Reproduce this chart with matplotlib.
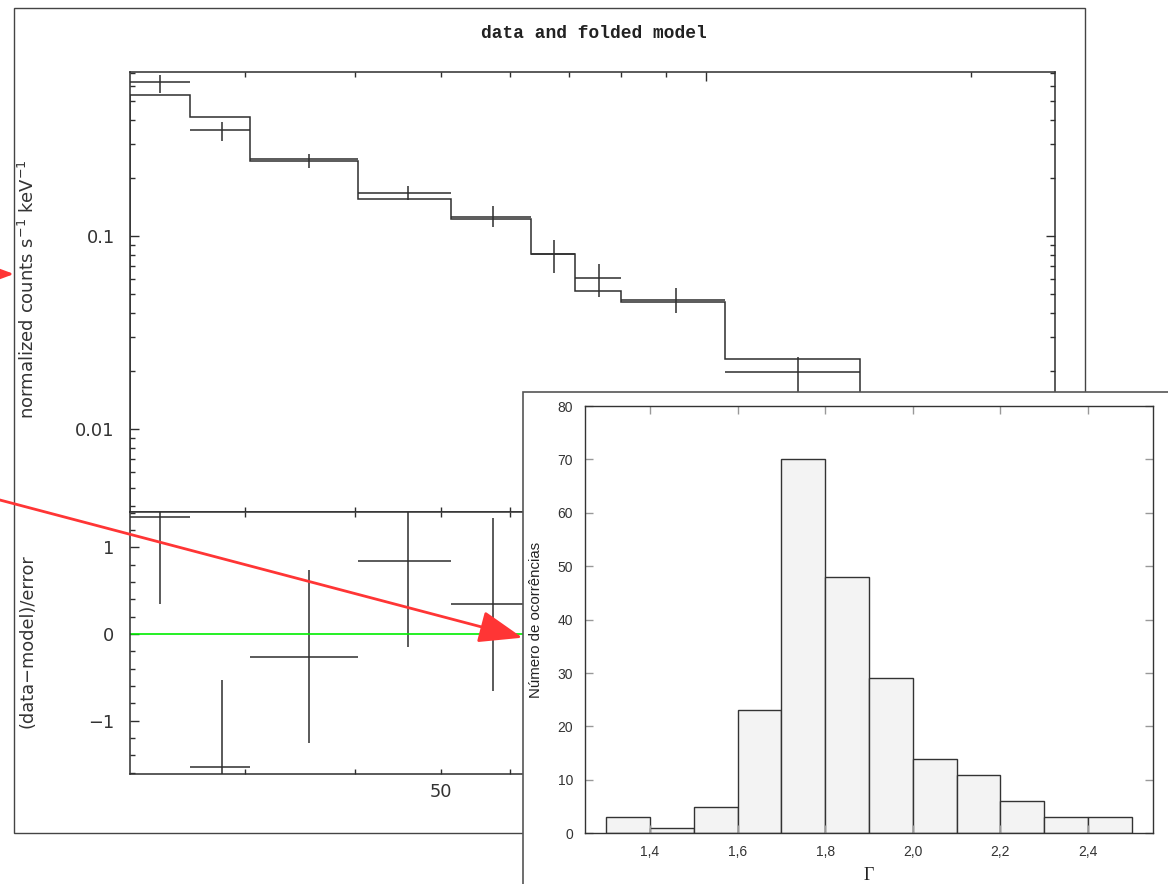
import matplotlib
matplotlib.use("Agg")
import matplotlib.pyplot as plt
from matplotlib.patches import Rectangle, FancyArrowPatch
from matplotlib.ticker import FixedLocator, FuncFormatter, MultipleLocator, NullFormatter

# --- spectrum (XSPEC "data and folded model") ---
energy_lo = [22.2, 26.0, 30.4, 40.3, 51.4, 63.3, 71.0, 80.0, 105.0]
energy_hi = [26.0, 30.4, 40.3, 51.4, 63.3, 71.0, 80.0, 105.0, 149.6]
energy_mid = [24.0, 28.2, 35.4, 45.9, 57.3, 67.2, 75.6, 92.5, 127.1]
rate = [0.627, 0.352, 0.249, 0.166, 0.126, 0.0804, 0.0604, 0.0467, 0.0198]
rate_lo = [0.551, 0.310, 0.225, 0.154, 0.111, 0.0641, 0.0482, 0.0401, 0.013]
rate_hi = [0.678, 0.390, 0.267, 0.181, 0.143, 0.0954, 0.0716, 0.0541, 0.0238]
model = [0.535, 0.411, 0.243, 0.155, 0.123, 0.0804, 0.0519, 0.0454, 0.0232]

# residuals visible left of the inset
resid = [1.35, -1.53, -0.26, 0.845, 0.34]
resid_err = [1.0, 1.0, 1.0, 1.0, 1.0]

# --- inset histogram of photon index ---
gamma_lo = [1.3, 1.4, 1.5, 1.6, 1.7, 1.8, 1.9, 2.0, 2.1, 2.2, 2.3, 2.4]
occurrences = [3, 1, 5, 23, 70, 48, 29, 14, 11, 6, 3, 3]
gamma_ticks = [1.4, 1.6, 1.8, 2.0, 2.2, 2.4]

W, H = 1168, 884
INK = "#2e2e2e"
RED = "#ff3535"


def frac(l, t, r, b):
    """pixel box (left, top, right, bottom) -> figure fraction rect"""
    return [l / W, 1 - b / H, (r - l) / W, (b - t) / H]


fig = plt.figure(figsize=(W / 100, H / 100), dpi=100)
fig.patch.set_facecolor("white")

# outer XSPEC frame
fig.add_artist(Rectangle((14 / W, 1 - 833 / H), (1085 - 14) / W, (833 - 8) / H,
                         transform=fig.transFigure, fill=False, ec="#444444", lw=1.0, zorder=0.5))
fig.text(594 / W, 1 - 33 / H, "data and folded model", ha="center", va="center",
         family="Liberation Mono", weight="bold", fontsize=12.9, color="#222222")

ax_top = fig.add_axes(frac(130, 71.7, 1055, 511.7), zorder=1)
ax_res = fig.add_axes(frac(130, 511.7, 1055, 774), zorder=1, sharex=ax_top)

xerr = [[m - lo for m, lo in zip(energy_mid, energy_lo)],
        [hi - m for m, hi in zip(energy_mid, energy_hi)]]
yerr = [[r - lo for r, lo in zip(rate, rate_lo)],
        [hi - r for r, hi in zip(rate, rate_hi)]]
ax_top.errorbar(energy_mid, rate, xerr=xerr, yerr=yerr, fmt="none", ecolor=INK, elinewidth=1.1, capsize=0)
ax_top.stairs(model, energy_lo + [energy_hi[-1]], baseline=1e-4, color=INK, lw=1.1)
ax_top.set_xscale("log")
ax_top.set_yscale("log")
ax_top.set_xlim(22.2, 249)
ax_top.set_ylim(0.00375, 0.708)

n = len(resid)
ax_res.errorbar(energy_mid[:n], resid,
                xerr=[xerr[0][:n], xerr[1][:n]], yerr=resid_err,
                fmt="none", ecolor=INK, elinewidth=1.1, capsize=0)
ax_res.axhline(0, color="#00ee00", lw=1.2)
ax_res.set_ylim(-1.615, 1.41)

for ax in (ax_top, ax_res):
    for s in ax.spines.values():
        s.set_color(INK)
        s.set_linewidth(1.1)
    ax.tick_params(which="both", direction="in", top=True, right=True, color=INK, width=1.0,
                   labelsize=12.8, labelcolor="#333333")
    ax.tick_params(which="major", length=6.5)
    ax.tick_params(which="minor", length=3.6)
    ax.xaxis.set_major_locator(FixedLocator([100]))
    ax.xaxis.set_minor_locator(FixedLocator([30, 40, 50, 60, 70, 80, 90, 200]))

ax_top.tick_params(axis="x", which="both", labelbottom=False)
ax_top.yaxis.set_major_locator(FixedLocator([0.01, 0.1]))
ax_top.yaxis.set_major_formatter(FuncFormatter(lambda v, p: "0.1" if v > 0.05 else "0.01"))
ax_top.yaxis.set_minor_locator(FixedLocator([k * d for d in (0.001, 0.01, 0.1) for k in range(2, 10)]))
ax_top.yaxis.set_minor_formatter(NullFormatter())
ax_top.tick_params(axis="y", which="both", pad=11)

ax_res.xaxis.set_major_formatter(FuncFormatter(lambda v, p: "100"))
ax_res.xaxis.set_minor_formatter(FuncFormatter(lambda v, p: {50: "50", 200: "200"}.get(int(round(v)), "")))
ax_res.tick_params(axis="x", which="both", pad=6.5)
ax_res.yaxis.set_major_locator(FixedLocator([-1, 0, 1]))
ax_res.yaxis.set_major_formatter(FuncFormatter(lambda v, p: f"{int(v)}".replace("-", "\u2212")))
ax_res.yaxis.set_minor_locator(MultipleLocator(0.2))
ax_res.tick_params(axis="y", which="both", pad=11.5)

fig.text(34 / W, 1 - 289 / H, "normalized counts s$^{-1}$ keV$^{-1}$", rotation=90,
         rotation_mode="anchor", ha="center", va="baseline", fontsize=13, color="#333333")
fig.text(33 / W, 1 - 641 / H, "(data\u2212model)/error", rotation=90,
         rotation_mode="anchor", ha="center", va="baseline", fontsize=12.8, color="#333333")

# inset panel
fig.add_artist(Rectangle((523 / W, 1 - 900 / H), (1200 - 523) / W, (900 - 392) / H,
                         transform=fig.transFigure, fc="white", ec="#555555", lw=1.2, zorder=3))
ax_h = fig.add_axes(frac(585, 406, 1153, 833.3), zorder=4)
ax_h.bar(gamma_lo, occurrences, width=0.1, align="edge", color="#f3f3f3", edgecolor="#333333", lw=1.0)
ax_h.set_xlim(1.252, 2.548)
ax_h.set_ylim(0, 80)
ax_h.set_xticks(gamma_ticks)
ax_h.set_xticklabels([f"{g:.1f}".replace(".", ",") for g in gamma_ticks])
ax_h.set_yticks(range(0, 81, 10))
for s in ax_h.spines.values():
    s.set_color("#333333")
    s.set_linewidth(1.0)
ax_h.tick_params(direction="in", top=True, right=True, length=6, width=1.0, color="#999999",
                 labelsize=10, labelcolor="#333333", pad=8.5)
for lbl in ax_h.get_xticklabels() + ax_h.get_yticklabels():
    lbl.set_family("Liberation Sans")
ax_h.set_ylabel("Número de ocorrências", family="Liberation Sans", fontsize=10.8, color="#222222")
ax_h.yaxis.set_label_coords((536 - 585) / (1153 - 585), 0.5)
ax_h.set_xlabel("\u0393", family="Liberation Serif", fontsize=13, color="#222222")
ax_h.xaxis.set_label_coords(0.5, -(875 - 833.3) / (833.3 - 406))
ax_h.xaxis.label.set_va("center")
ax_h.yaxis.label.set_va("center")

# red arrows on top of everything
ax_o = fig.add_axes([0, 0, 1, 1], zorder=10)
ax_o.set_xlim(0, W)
ax_o.set_ylim(H, 0)
ax_o.axis("off")
ax_o.patch.set_alpha(0)
arrow_style = "-|>,head_length=1.35,head_width=0.5"
for start, tip in [((-80, 274), (14, 274)), ((-10, 497.4), (522.4, 637.7))]:
    ax_o.add_patch(FancyArrowPatch(start, tip, arrowstyle=arrow_style, mutation_scale=20,
                                   color=RED, lw=2.0, shrinkA=0, shrinkB=0))

fig.savefig("out.png", dpi=100)
